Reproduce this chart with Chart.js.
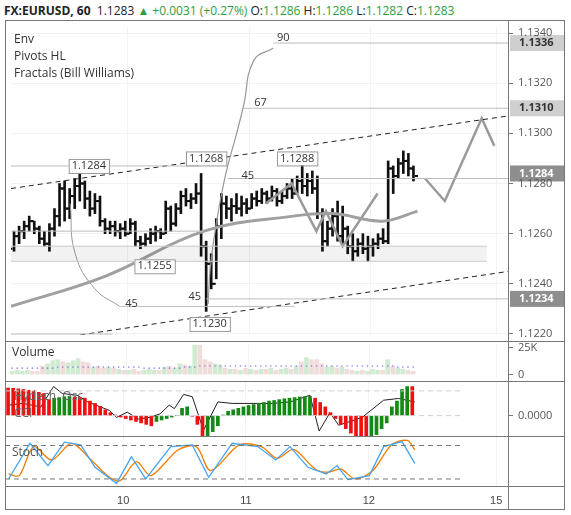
<!doctype html>
<html lang="en">
<head>
<meta charset="utf-8">
<script src="https://cdn.jsdelivr.net/npm/chart.js"></script>
<style>
  body { margin:0; background:#fff; font-family:"Open Sans", Arial, sans-serif; }
  .box { position:absolute; left:5px; width:560px; }
  .t { position:absolute; font-size:12px; color:#333; white-space:nowrap; }
  .ln { position:absolute; background:#777; }
</style>
</head>
<body>
<div class="t" style="left:4px;top:2px;font-size:12px;color:#222"><b>FX:EURUSD, 60</b>&nbsp; 1.1283 <span style="color:#2e9e3e">▲ +0.0031 (+0.27%)</span> O:<span style="color:#2e9e3e">1.1286</span> H:<span style="color:#2e9e3e">1.1286</span> L:<span style="color:#2e9e3e">1.1282</span> C:<span style="color:#2e9e3e">1.1283</span></div>

<div class="box" style="top:21px;height:320px"><canvas id="main"></canvas></div>
<div class="box" style="top:341px;height:40px"><canvas id="vol"></canvas></div>
<div class="box" style="top:381px;height:55px"><canvas id="osc"></canvas></div>
<div class="box" style="top:436px;height:74px"><canvas id="sto"></canvas></div>

<div class="t" style="left:14px;top:30px">Env</div>
<div class="t" style="left:14px;top:47px">Pivots HL</div>
<div class="t" style="left:14px;top:64px">Fractals (Bill Williams)</div>
<div class="t" style="left:12px;top:343px">Volume</div>
<div class="t" style="left:14px;top:387px;color:#666">Hydech. Osc</div>
<div class="t" style="left:14px;top:404px;color:#666">CCI</div>
<div class="t" style="left:12px;top:443px;color:#555">Stoch</div>

<div class="ln" style="left:5px;top:20px;width:560px;height:1px"></div>
<div class="ln" style="left:5px;top:509px;width:560px;height:1px"></div>
<div class="ln" style="left:5px;top:20px;width:1px;height:490px"></div>
<div class="ln" style="left:564px;top:20px;width:1px;height:490px"></div>
<div class="ln" style="left:508px;top:20px;width:1px;height:490px"></div>
<div class="ln" style="left:5px;top:341px;width:560px;height:1px"></div>
<div class="ln" style="left:5px;top:381px;width:560px;height:1px"></div>
<div class="ln" style="left:5px;top:436px;width:560px;height:1px"></div>
<div class="ln" style="left:5px;top:486px;width:560px;height:1px"></div>

<script>
// hourly bars, hour 0 = day 10 00:00
const hours = [];
for (let i = 0; i < 80; i++) hours.push(i - 22.5);
const highs = [1.1261,1.1263,1.1265,1.1267,1.1265,1.1263,1.1261,1.1264,1.1270,1.1280,1.1281,1.1278,1.1282,1.1284,1.1281,1.1277,1.1276,1.1275,1.1266,1.1265,
  1.1265,1.1264,1.1265,1.1266,1.1265,1.1259,1.1260,1.1262,1.1263,1.1262,1.1273,1.1271,1.1272,1.1277,1.1278,1.1276,1.1280,1.1284,1.1257,1.1252,
  1.1266,1.1276,1.1275,1.1274,1.1276,1.1275,1.1274,1.1276,1.1277,1.1278,1.1277,1.1279,1.1278,1.1277,1.1280,1.1282,1.1283,1.1288,1.1284,1.1285,
  1.1283,1.1270,1.1265,1.1270,1.1273,1.1271,1.1263,1.1260,1.1258,1.1260,1.1259,1.1258,1.1260,1.1262,1.1289,1.1287,1.1290,1.1293,1.1292,1.1287];
const lows = [1.1253,1.1256,1.1258,1.1261,1.1260,1.1256,1.1255,1.1253,1.1259,1.1263,1.1265,1.1266,1.1270,1.1273,1.1270,1.1267,1.1268,1.1263,1.1260,1.1260,
  1.1259,1.1258,1.1259,1.1260,1.1255,1.1254,1.1255,1.1256,1.1257,1.1258,1.1260,1.1261,1.1263,1.1268,1.1271,1.1270,1.1272,1.1251,1.1229,1.1238,
  1.1242,1.1258,1.1266,1.1265,1.1268,1.1267,1.1268,1.1270,1.1271,1.1272,1.1272,1.1273,1.1271,1.1272,1.1274,1.1274,1.1276,1.1276,1.1275,1.1276,
  1.1266,1.1253,1.1255,1.1259,1.1257,1.1256,1.1252,1.1249,1.1251,1.1252,1.1249,1.1251,1.1254,1.1256,1.1256,1.1276,1.1282,1.1284,1.1283,1.1281];
const opens = [1.1254,1.1259,1.1261,1.1263,1.1265,1.1262,1.1258,1.1256,1.1262,1.1267,1.1278,1.1270,1.1275,1.1279,1.1280,1.1274,1.1270,1.1273,1.1265,1.1262,
  1.1263,1.1261,1.1262,1.1260,1.1264,1.1257,1.1256,1.1258,1.1260,1.1261,1.1260,1.1270,1.1264,1.1270,1.1275,1.1273,1.1274,1.1276,1.1255,1.1248,
  1.1240,1.1263,1.1272,1.1270,1.1271,1.1270,1.1272,1.1270,1.1274,1.1273,1.1276,1.1274,1.1277,1.1273,1.1275,1.1278,1.1276,1.1281,1.1279,1.1281,
  1.1278,1.1268,1.1257,1.1262,1.1267,1.1259,1.1262,1.1255,1.1253,1.1256,1.1254,1.1255,1.1256,1.1258,1.1257,1.1286,1.1283,1.1288,1.1289,1.1286];
const closes = [1.1259,1.1261,1.1263,1.1265,1.1262,1.1258,1.1256,1.1262,1.1267,1.1278,1.1270,1.1275,1.1279,1.1280,1.1274,1.1270,1.1273,1.1265,1.1262,1.1263,
  1.1261,1.1262,1.1260,1.1264,1.1257,1.1256,1.1258,1.1260,1.1261,1.1260,1.1270,1.1264,1.1270,1.1275,1.1273,1.1274,1.1276,1.1255,1.1248,1.1240,
  1.1263,1.1272,1.1270,1.1271,1.1270,1.1272,1.1270,1.1274,1.1273,1.1276,1.1274,1.1277,1.1273,1.1275,1.1278,1.1276,1.1281,1.1279,1.1281,1.1278,
  1.1268,1.1257,1.1262,1.1267,1.1259,1.1262,1.1255,1.1253,1.1256,1.1254,1.1255,1.1256,1.1258,1.1257,1.1286,1.1283,1.1288,1.1289,1.1286,1.1283];

const maLine = [[-23.1,1.1231],[-4.5,1.1243],[15.1,1.1261],[32.7,1.1267],[40.6,1.1268],[50.4,1.1265],[57.3,1.1269]];
const upperChannel = [[-23.1,1.1278],[75.4,1.1307]];
const lowerChannel = [[-18.2,1.1217],[75.4,1.1245]];
const zigzag1 = [[27.3,1.1272],[32.4,1.1280],[37.3,1.1261],[39.2,1.1269],[42.5,1.1255],[49.4,1.1276]];
const zigzag2 = [[58.8,1.1282],[62.7,1.1273],[70.0,1.1306],[72.5,1.1295]];
const bigArc = [[28.8,1.1334],[24.9,1.1329],[22.9,1.1311],[21.4,1.1299],[19.4,1.1284],[17.5,1.1264],[16.3,1.1246],[15.9,1.1232]];
const smallArc = [[-11.4,1.1272],[-10.4,1.1252],[-6.5,1.1238],[-1.6,1.1231]];
const levels = [ // [from, to, price]
  [28.8,75.4,1.1336],[22.5,75.4,1.1310],[19.8,75.4,1.1282],[15.5,75.4,1.1234],[-1.6,33,1.1231],
  [-23.1,14,1.1287],[-23.1,15,1.1261],[-23.1,-3,1.1220]];
const band = [-23.1,71,1.1255,1.1249];
const fractalLabels = [[-7.7,1.1287,'1.1284'],[15.5,1.1290,'1.1268'],[33.5,1.1290,'1.1288'],[5.3,1.1247,'1.1255'],[16.2,1.1224,'1.1230']];
const arcLabels = [[29.5,1.1338,'90'],[25,1.1312,'67'],[22.5,1.1283,'45'],[12,1.1235,'45'],[-0.5,1.1232,'45']];
const axisBadges = [1.1336,1.1310,1.1284,1.1234];
const priceTicks = [1.1220,1.1240,1.1260,1.1280,1.1300,1.1320,1.1340];

const volume = [3,4,3,4,3,3,8,10,13,14,12,11,13,15,12,11,7,8,6,7,6,5,4,4,5,3,4,5,4,4,7,8,6,10,9,8,28,30,14,12,
  10,9,6,5,5,4,6,5,4,5,5,6,4,5,6,5,8,12,16,14,14,10,7,8,6,7,5,4,3,4,3,5,4,4,14,8,6,5,4,3];
const volMA = [6,6,6,6,6,6,6,6,6,7,7,7,7,7,7,7,7,7,7,7,7,7,7,7,7,7,6,6,6,6,6,6,6,6,7,7,7,8,8,8,
  8,8,8,8,8,8,8,8,8,8,8,8,8,8,8,8,8,8,8,8,8,8,8,8,8,8,8,8,8,8,8,8,8,8,8,8,7,7,7,7];
const hydech = [0.95,0.94,0.92,0.9,0.87,0.84,0.8,0.76,0.55,0.6,0.62,0.65,0.66,0.63,0.62,0.6,0.5,0.42,0.32,0.2,
  0.1,0.02,-0.05,-0.1,-0.15,-0.2,-0.25,-0.3,-0.35,-0.2,-0.15,-0.1,-0.05,0.0,0.25,0.3,-0.02,-0.3,-0.9,-0.75,
  -0.55,-0.35,0.02,0.15,0.2,0.25,0.3,0.35,0.38,0.42,0.45,0.5,0.52,0.55,0.58,0.6,0.62,0.64,0.65,0.66,
  0.6,0.45,0.3,0.1,-0.1,-0.3,-0.45,-0.6,-0.75,-0.9,-0.92,-0.8,-0.65,-0.45,-0.25,0.3,0.5,0.9,1.0,1.0];
const cci = [[-22.4,0.36],[-19.6,0.42],[-16.1,0.3],[-13.6,1.0],[-11.9,0.76],[-9.0,0.7],[-6.9,0.47],[-2.7,0.18],[-1.3,-0.06],[0.8,0.12],
  [3.0,-0.12],[5.1,-0.06],[7.2,0.06],[9.0,0.36],[10.0,0.24],[11.8,0.73],[13.5,0.65],[15.7,-0.5],[18.5,0.47],[21.3,0.42],
  [29.1,0.42],[32.6,0.47],[36.5,0.7],[38.3,-0.53],[40.4,0.1],[42.1,-0.33],[46.7,-0.06],[50.9,0.53],[53.8,0.59],[57.0,0.47]];
const stochK = [[-22.4,20],[-18.2,84],[-14.7,44],[-11.5,86],[-8.3,81],[-5.5,41],[-1.3,12],[1.6,60],[4.4,20],[9.3,78],
  [13.5,81],[16.7,23],[21.3,84],[26.3,78],[29.8,54],[32.6,78],[36.1,41],[39.7,29],[41.8,44],[43.9,19],[48.1,26],[50.9,78],[54.5,87],[57.0,48]];
const stochD = [[-22.4,29],[-20.3,26],[-17.5,78],[-14.0,54],[-10.1,84],[-6.9,60],[-2.7,23],[-0.6,17],[2.6,51],[5.4,26],
  [10.7,72],[14.3,78],[17.1,35],[22.7,81],[27.0,78],[30.1,57],[33.3,73],[37.5,38],[40.0,32],[42.5,38],[45.3,20],[48.8,35],[52.4,81],[55.5,89],[57.0,72]];
const dayTicks = [0,24,48,72.9];
const dayLabels = ['10','11','12','15'];

const pts = a => a.map(p => ({x:p[0], y:p[1]}));
const X_MIN = -23.1, X_MAX = 75.4, AXIS_W = 56;
const fitY = s => { s.width = AXIS_W; };
function xScale(show) {
  return {
    type:'linear', min:X_MIN, max:X_MAX, offset:false,
    afterBuildTicks: s => { s.ticks = dayTicks.map(v => ({value:v})); },
    afterFit: s => { s.height = show ? 24 : 0; },
    grid:{ color:'#f2f2f2', drawTicks:false, drawOnChartArea:true, offset:false },
    border:{ display:false },
    ticks:{ display:show, color:'#444', font:{size:11}, padding:show ? 8 : 0,
      callback: v => dayLabels[dayTicks.indexOf(v)] }
  };
}
// right-axis y scale; labels are painted by the rightLabels plugin so they add no padding
function yScale(min, max, ticks, grid) {
  return { position:'right', min:min, max:max, afterFit:fitY,
    afterBuildTicks: s => { s.ticks = ticks.map(v => ({value:v})); },
    grid:{ display:true, drawOnChartArea:grid, color:'#f2f2f2', tickLength:4, tickColor:'#777' },
    border:{display:false}, ticks:{ display:false } };
}
const rightLabels = {
  id:'rightLabels',
  afterDraw(chart, args, o) {
    if (!o.ticks) return;
    const c = chart.ctx, ys = chart.scales.y;
    c.save();
    c.font = '11px "Open Sans"'; c.fillStyle = '#555';
    c.textBaseline = 'middle'; c.textAlign = 'left';
    o.ticks.forEach(v => c.fillText(o.fmt(v), ys.left + 9, ys.getPixelForValue(v)));
    c.restore();
  }
};
const baseOpts = (labels) => ({
  responsive:true, maintainAspectRatio:false, animation:false,
  layout:{ padding:0 },
  plugins:{ legend:{display:false}, tooltip:{enabled:false}, rightLabels:labels || {} }
});
const lineDs = (data, color, width, extra) => Object.assign({
  type:'line', data:pts(data), borderColor:color, borderWidth:width, pointRadius:0, fill:false, tension:0
}, extra || {});

// main price pane
const ohlcBars = hours.map((h, i) => ({x:h, y:[lows[i], highs[i]]}));
const openPts = hours.map((h, i) => ({x:h - 0.6, y:opens[i]}));
const closePts = hours.map((h, i) => ({x:h + 0.6, y:closes[i]}));
const levelDs = levels.map(l => lineDs([[l[0], l[2]], [l[1], l[2]]], '#bdbdbd', 1));

const annotate = {
  id:'annotate',
  afterDatasetsDraw(chart) {
    const c = chart.ctx, xs = chart.scales.x, ys = chart.scales.y;
    c.save();
    c.font = '11px "Open Sans"';
    c.textBaseline = 'middle';
    fractalLabels.forEach(f => {
      const x = xs.getPixelForValue(f[0]), y = ys.getPixelForValue(f[1]);
      const w = c.measureText(f[2]).width + 6;
      c.fillStyle = '#fff'; c.strokeStyle = '#999';
      c.fillRect(x - w/2, y - 7, w, 14); c.strokeRect(x - w/2 + 0.5, y - 6.5, w, 14);
      c.fillStyle = '#333'; c.textAlign = 'center'; c.fillText(f[2], x, y);
    });
    arcLabels.forEach(f => {
      c.fillStyle = '#333'; c.textAlign = 'left';
      c.fillText(f[2], xs.getPixelForValue(f[0]), ys.getPixelForValue(f[1]));
    });
    c.restore();
  },
  afterDraw(chart) {
    const c = chart.ctx, xs = chart.scales.x, ys = chart.scales.y;
    c.save();
    c.textBaseline = 'middle'; c.textAlign = 'left';
    axisBadges.forEach(p => {
      const y = ys.getPixelForValue(p), dark = (p === 1.1284 || p === 1.1234);
      c.fillStyle = dark ? '#8e8e8e' : '#cfcfcf';
      c.fillRect(xs.right + 1, y - 8, AXIS_W - 2, 16);
      c.fillStyle = dark ? '#fff' : '#333';
      c.font = 'bold 11px "Open Sans"';
      c.fillText(p.toFixed(4), xs.right + 10, y);
    });
    c.restore();
  }
};

new Chart(document.getElementById('main'), {
  data:{ datasets:[
    lineDs([[band[0],band[2]],[band[1],band[2]]], '#c8c8c8', 1),
    lineDs([[band[0],band[3]],[band[1],band[3]]], '#c8c8c8', 1, {fill:'-1', backgroundColor:'rgba(0,0,0,0.05)'}),
    ...levelDs,
    lineDs(upperChannel, '#222', 1, {borderDash:[5,4]}),
    lineDs(lowerChannel, '#222', 1, {borderDash:[5,4]}),
    lineDs(maLine, '#a0a0a0', 3, {tension:0.4}),
    lineDs(bigArc, '#999', 1.2, {tension:0.45}),
    lineDs(smallArc, '#999', 1, {tension:0.45}),
    lineDs(zigzag1, '#9a9a9a', 2.5),
    lineDs(zigzag2, '#9a9a9a', 2.5),
    { type:'bar', data:ohlcBars, backgroundColor:'#111', barThickness:2, grouped:false },
    { type:'scatter', data:openPts, pointStyle:'line', pointRadius:1.5, borderColor:'#111', borderWidth:2 },
    { type:'scatter', data:closePts, pointStyle:'line', pointRadius:1.5, borderColor:'#111', borderWidth:2 }
  ]},
  options:Object.assign(baseOpts({ticks:priceTicks, fmt:v => v.toFixed(4)}), {
    scales:{ x:xScale(false), y:yScale(1.12196, 1.13424, priceTicks, true) }
  }),
  plugins:[annotate, rightLabels]
});

// volume pane
new Chart(document.getElementById('vol'), {
  data:{ datasets:[
    { type:'bar', data:hours.map((h, i) => ({x:h, y:volume[i]})), barThickness:4,
      backgroundColor:hours.map((h, i) => closes[i] >= opens[i] ? 'rgba(76,175,80,0.26)' : 'rgba(200,120,120,0.26)') },
    { type:'line', data:hours.map((h, i) => ({x:h, y:volMA[i]})), borderWidth:0, showLine:false,
      pointRadius:0.8, pointBackgroundColor:'#8a7ff0', pointBorderWidth:0 }
  ]},
  options:Object.assign(baseOpts({ticks:[0,25], fmt:v => v ? v + 'K' : '0'}), {
    scales:{ x:xScale(false), y:yScale(-2.3, 27.7, [0,25], false) }
  }),
  plugins:[rightLabels]
});

// oscillator pane
new Chart(document.getElementById('osc'), {
  data:{ datasets:[
    lineDs([[X_MIN,0.85],[X_MAX - 9,0.85]], '#cfcfcf', 1, {borderDash:[5,4]}),
    lineDs([[X_MIN,0],[X_MAX - 9,0]], '#cfcfcf', 1, {borderDash:[5,4]}),
    { type:'bar', data:hours.map((h, i) => ({x:h, y:hydech[i]})), barThickness:3,
      backgroundColor:hydech.map((v, i) => i > 0 && v > hydech[i-1] ? '#138a13' : '#f01010') },
    lineDs(cci, '#222', 1)
  ]},
  options:Object.assign(baseOpts({ticks:[0], fmt:v => v.toFixed(4)}), {
    scales:{ x:xScale(false), y:yScale(-0.7, 1.19, [0], false) }
  }),
  plugins:[rightLabels]
});

// stochastic pane
new Chart(document.getElementById('sto'), {
  data:{ datasets:[
    lineDs([[X_MIN,80],[X_MAX - 9,80]], '#777', 1, {borderDash:[5,4]}),
    lineDs([[X_MIN,20],[X_MAX - 9,20]], '#777', 1, {borderDash:[5,4]}),
    lineDs(stochK, '#42a5f5', 1.3),
    lineDs(stochD, '#f57c00', 1.3, {tension:0.3})
  ]},
  options:Object.assign(baseOpts(), {
    scales:{ x:xScale(true), y:yScale(7.4, 97, [], false) }
  })
});
</script>
</body>
</html>
